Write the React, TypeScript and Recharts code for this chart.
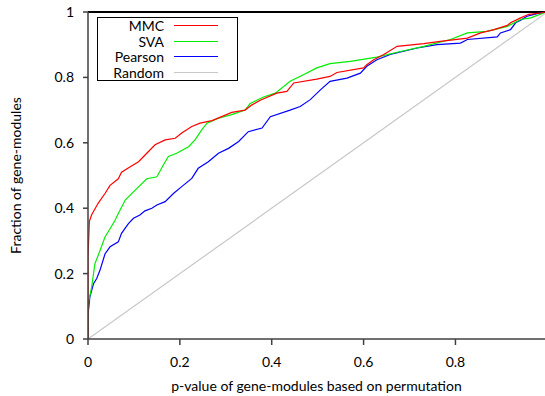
import {
  LineChart, Line, XAxis, YAxis, ReferenceLine
} from 'recharts';

// ECDF-like curves
const mmcX = [0, 0, 0.003, 0.008, 0.022, 0.037, 0.048, 0.066, 0.073, 0.092, 0.11, 0.128, 0.146, 0.168, 0.19, 0.204, 0.226, 0.244, 0.27, 0.291, 0.313, 0.342, 0.357, 0.375, 0.411, 0.433, 0.448, 0.498, 0.527, 0.542, 0.6, 0.607, 0.622, 0.644, 0.673, 0.731, 0.767, 0.826, 0.855, 0.884, 0.913, 0.92, 0.942, 0.96, 0.985, 0.995];
const mmcY = [0, 0.25, 0.36, 0.38, 0.415, 0.445, 0.47, 0.49, 0.51, 0.527, 0.542, 0.568, 0.594, 0.609, 0.614, 0.63, 0.65, 0.66, 0.668, 0.68, 0.693, 0.7, 0.716, 0.73, 0.752, 0.757, 0.783, 0.795, 0.803, 0.815, 0.829, 0.839, 0.854, 0.87, 0.895, 0.903, 0.91, 0.92, 0.936, 0.946, 0.959, 0.967, 0.982, 0.993, 0.997, 1];

const svaX = [0, 0, 0.002, 0.008, 0.015, 0.026, 0.037, 0.044, 0.059, 0.066, 0.081, 0.106, 0.128, 0.15, 0.164, 0.175, 0.193, 0.219, 0.233, 0.248, 0.259, 0.284, 0.313, 0.342, 0.353, 0.382, 0.408, 0.44, 0.469, 0.498, 0.527, 0.571, 0.629, 0.673, 0.731, 0.789, 0.826, 0.869, 0.913, 0.942, 0.964, 0.992];
const svaY = [0, 0.1, 0.118, 0.159, 0.23, 0.27, 0.312, 0.328, 0.363, 0.384, 0.425, 0.46, 0.49, 0.496, 0.532, 0.558, 0.568, 0.588, 0.609, 0.64, 0.66, 0.675, 0.686, 0.7, 0.72, 0.74, 0.752, 0.788, 0.808, 0.829, 0.842, 0.849, 0.862, 0.877, 0.895, 0.916, 0.936, 0.941, 0.956, 0.977, 0.982, 0.997];

const pearsonX = [0, 0.001, 0.004, 0.012, 0.019, 0.026, 0.037, 0.048, 0.066, 0.073, 0.088, 0.099, 0.113, 0.124, 0.139, 0.15, 0.168, 0.186, 0.204, 0.226, 0.24, 0.262, 0.284, 0.306, 0.328, 0.349, 0.379, 0.397, 0.44, 0.462, 0.484, 0.506, 0.527, 0.564, 0.593, 0.607, 0.629, 0.658, 0.717, 0.76, 0.811, 0.826, 0.891, 0.898, 0.92, 0.931, 0.942, 0.956, 0.978, 0.992];
const pearsonY = [0, 0.087, 0.128, 0.169, 0.185, 0.21, 0.26, 0.282, 0.297, 0.323, 0.353, 0.369, 0.379, 0.392, 0.4, 0.41, 0.42, 0.445, 0.466, 0.491, 0.522, 0.542, 0.568, 0.583, 0.604, 0.634, 0.645, 0.68, 0.7, 0.711, 0.732, 0.762, 0.788, 0.798, 0.813, 0.834, 0.854, 0.87, 0.89, 0.9, 0.905, 0.916, 0.924, 0.936, 0.946, 0.967, 0.975, 0.987, 0.995, 0.998];

const randomX = [0, 1];
const randomY = [0, 1];

const xTicks = [0, 0.2, 0.4, 0.6, 0.8];
const yTicks = [0, 0.2, 0.4, 0.6, 0.8, 1];

const toPoints = (xs: number[], ys: number[]) => xs.map((x, i) => ({ x, y: ys[i] }));

const series = [
  { name: 'MMC', color: '#ff0000', data: toPoints(mmcX, mmcY) },
  { name: 'SVA', color: '#00ee00', data: toPoints(svaX, svaY) },
  { name: 'Pearson', color: '#0000ff', data: toPoints(pearsonX, pearsonY) },
  { name: 'Random', color: '#c8c8c8', data: toPoints(randomX, randomY) },
];

function BoxLegend() {
  return (
    <div style={{
      position: 'absolute', left: 97, top: 17,
      border: '1px solid #000', width: 141, height: 64, boxSizing: 'border-box',
      background: '#fff', fontSize: 14, color: '#000'
    }}>
      {series.map((s) => (
        <div key={s.name} style={{ display: 'flex', alignItems: 'center', height: 15.5 }}>
          <span style={{ width: 66, textAlign: 'right', lineHeight: '15px' }}>{s.name}</span>
          <span style={{ display: 'block', width: 44, height: 0, marginLeft: 10, borderTop: `1px solid ${s.color}` }} />
        </div>
      ))}
    </div>
  );
}

export default function App() {
  const axisColor = '#404040';
  return (
    <div style={{ position: 'absolute', left: 0, top: 0, width: 545, height: 396, fontFamily: 'Lato, sans-serif', background: '#fff' }}>
      <LineChart width={545} height={396} margin={{ top: 12, right: 0, bottom: 0, left: 0 }}>
        <XAxis
          type="number"
          dataKey="x"
          domain={[0, 0.995]}
          allowDataOverflow
          ticks={xTicks}
          tickFormatter={(v: number) => String(v)}
          height={57}
          tickSize={6}
          tickMargin={12}
          stroke={axisColor}
          strokeWidth={1.5}
          tick={{ fill: '#000', fontSize: 14 }}
          label={{ value: 'p-value of gene-modules based on permutation', position: 'insideBottom', offset: 5, style: { fill: '#000', fontSize: 14 } }}
        />
        <YAxis
          type="number"
          dataKey="y"
          domain={[0, 1]}
          ticks={yTicks}
          tickFormatter={(v: number) => String(v)}
          width={88}
          tickSize={5}
          tickMargin={9}
          stroke={axisColor}
          strokeWidth={1.5}
          tick={{ fill: '#000', fontSize: 14 }}
          label={{ value: 'Fraction of gene-modules', angle: -90, position: 'insideLeft', offset: 16, style: { fill: '#000', fontSize: 14, textAnchor: 'middle' } }}
        />
        <ReferenceLine y={1} stroke="#000" strokeWidth={2} />
        {[...series].reverse().map((s) => (
          <Line
            key={s.name}
            data={s.data}
            dataKey="y"
            name={s.name}
            type="linear"
            stroke={s.color}
            strokeWidth={1.2}
            dot={false}
            isAnimationActive={false}
          />
        ))}
      </LineChart>
      <BoxLegend />
    </div>
  );
}
